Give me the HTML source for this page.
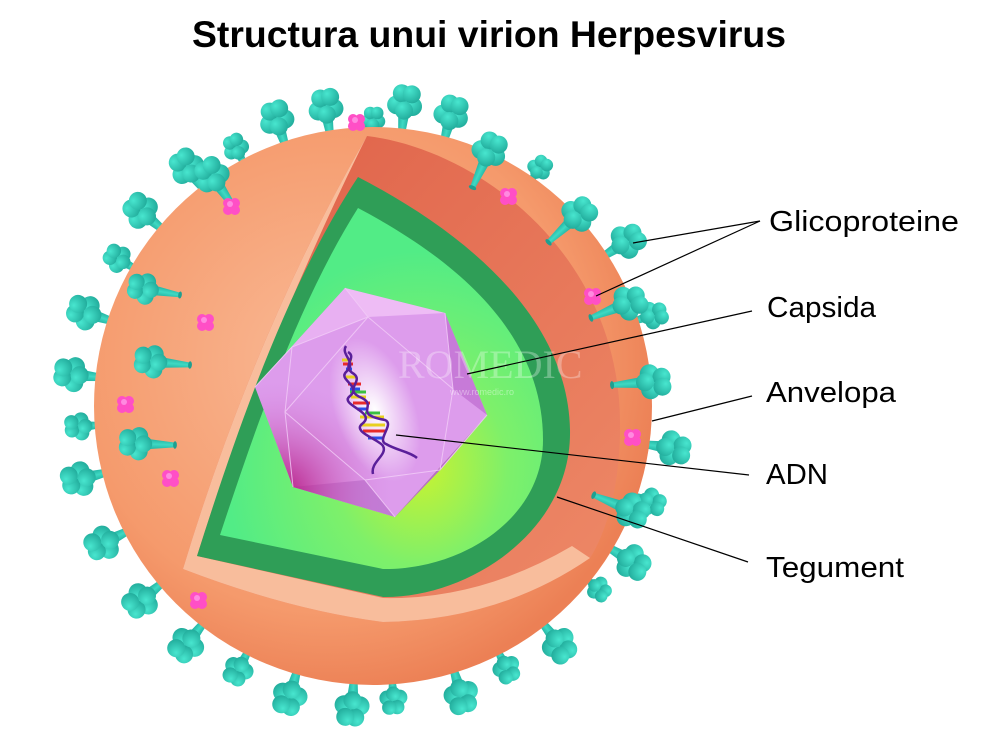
<!DOCTYPE html>
<html><head><meta charset="utf-8"><style>
html,body{margin:0;padding:0;background:#fff;}
svg{display:block;}
</style></head><body>
<svg width="1000" height="747" viewBox="0 0 1000 747" xmlns="http://www.w3.org/2000/svg">
<defs>
<radialGradient id="sph" cx="0.42" cy="0.42" r="0.6">
<stop offset="0" stop-color="#f9b995"/><stop offset="0.75" stop-color="#f59a6c"/><stop offset="1" stop-color="#ec8055"/></radialGradient>
<linearGradient id="cut" x1="0" y1="0" x2="1" y2="1">
<stop offset="0" stop-color="#de5f47"/><stop offset="1" stop-color="#ee8a68"/></linearGradient>
<radialGradient id="lg" cx="0.62" cy="0.72" r="0.6">
<stop offset="0" stop-color="#c9f230"/><stop offset="0.45" stop-color="#7ef06a"/><stop offset="1" stop-color="#52ec86"/></radialGradient>
<radialGradient id="hd" cx="0.35" cy="0.3" r="0.8">
<stop offset="0" stop-color="#48e6cf"/><stop offset="1" stop-color="#1fa898"/></radialGradient>
<linearGradient id="stk" x1="0" y1="0" x2="1" y2="0">
<stop offset="0" stop-color="#22b3a2"/><stop offset="0.5" stop-color="#3fd9c3"/><stop offset="1" stop-color="#22b3a2"/></linearGradient>
<radialGradient id="mag" cx="0.1" cy="0.9" r="0.5">
<stop offset="0" stop-color="#b4107a"/><stop offset="1" stop-color="#d890e4" stop-opacity="0"/></radialGradient>
<radialGradient id="glow" cx="0.5" cy="0.5" r="0.5">
<stop offset="0" stop-color="#ffffff"/><stop offset="1" stop-color="#ffffff" stop-opacity="0"/></radialGradient>
<symbol id="sp" overflow="visible">
<path d="M-2.5,0 L2.5,0 L5.5,-30 L-5.5,-30 Z" fill="url(#stk)"/>
<ellipse cx="0" cy="0" rx="4" ry="2" fill="#1e9f90"/>
<g fill="url(#hd)">
<circle cx="-8" cy="-38" r="9.5"/><circle cx="8" cy="-38" r="9.5"/>
<circle cx="-4" cy="-50" r="9"/><circle cx="6" cy="-50" r="9"/>
<circle cx="0" cy="-33" r="9"/>
</g></symbol>
<symbol id="pk" overflow="visible">
<g fill="#ff4fc6"><circle cx="-3" cy="-3" r="5"/><circle cx="4" cy="-3" r="5"/><circle cx="-3" cy="4" r="5"/><circle cx="4" cy="4" r="5"/></g>
<circle cx="-1" cy="-2" r="3" fill="#ff8ae0"/></symbol>
</defs>

<text x="192" y="47" font-family="Liberation Sans, sans-serif" font-weight="bold" font-size="37" textLength="594" lengthAdjust="spacingAndGlyphs" fill="#000">Structura unui virion Herpesvirus</text>

<g>
<use href="#sp" transform="translate(373 406) rotate(-18.6) translate(0 -262)"/>
<use href="#sp" transform="translate(373 406) rotate(-9) translate(0 -262)"/>
<use href="#sp" transform="translate(373 406) rotate(6) translate(0 -264)"/>
<use href="#sp" transform="translate(373 406) rotate(15) translate(0 -262)"/>
<use href="#sp" transform="translate(373 406) rotate(0) translate(0 -258) scale(0.7)"/>
<use href="#sp" transform="translate(373 406) rotate(35) translate(0 -262) scale(0.7)"/>
<use href="#sp" transform="translate(373 406) rotate(57) translate(0 -262)"/>
<use href="#sp" transform="translate(373 406) rotate(72) translate(0 -262) scale(0.8)"/>
<use href="#sp" transform="translate(373 406) rotate(98) translate(0 -262)"/>
<use href="#sp" transform="translate(373 406) rotate(109) translate(0 -262) scale(0.8)"/>
<use href="#sp" transform="translate(373 406) rotate(121) translate(0 -262)"/>
<use href="#sp" transform="translate(373 406) rotate(129) translate(0 -262) scale(0.7)"/>
<use href="#sp" transform="translate(373 406) rotate(142) translate(0 -262)"/>
<use href="#sp" transform="translate(373 406) rotate(153) translate(0 -262) scale(0.8)"/>
<use href="#sp" transform="translate(373 406) rotate(163) translate(0 -262)"/>
<use href="#sp" transform="translate(373 406) rotate(176) translate(0 -262) scale(0.8)"/>
<use href="#sp" transform="translate(373 406) rotate(184) translate(0 -262)"/>
<use href="#sp" transform="translate(373 406) rotate(196) translate(0 -262)"/>
<use href="#sp" transform="translate(373 406) rotate(207) translate(0 -262) scale(0.85)"/>
<use href="#sp" transform="translate(373 406) rotate(218) translate(0 -262)"/>
<use href="#sp" transform="translate(373 406) rotate(230) translate(0 -262)"/>
<use href="#sp" transform="translate(373 406) rotate(243) translate(0 -262)"/>
<use href="#sp" transform="translate(373 406) rotate(256) translate(0 -262)"/>
<use href="#sp" transform="translate(373 406) rotate(266) translate(0 -262) scale(0.8)"/>
<use href="#sp" transform="translate(373 406) rotate(276) translate(0 -262)"/>
<use href="#sp" transform="translate(373 406) rotate(288) translate(0 -262)"/>
<use href="#sp" transform="translate(373 406) rotate(300) translate(0 -262) scale(0.8)"/>
<use href="#sp" transform="translate(373 406) rotate(310) translate(0 -262)"/>
<use href="#sp" transform="translate(373 406) rotate(322) translate(0 -262)"/>
<use href="#sp" transform="translate(373 406) rotate(332) translate(0 -262) scale(0.75)"/>
</g>

<circle cx="373" cy="406" r="279" fill="url(#sph)"/>

<path d="M367,136 C480,150 618,255 620,420 C621,480 608,530 590,558 Q500,620 383,622 Q290,610 183,569 Q255,330 367,136 Z" fill="url(#cut)"/>
<path d="M367,136 Q255,330 183,569 Q290,610 383,622 Q500,620 590,558 L572,546 Q480,600 383,598 L197,556 Q262,350 360,150 Z" fill="#f8bd9c"/>
<path d="M358,177 C470,235 568,320 570,430 C572,530 470,598 383,597 L197,556 C240,420 290,280 358,177 Z" fill="#2f9e57"/>
<path d="M358,208 C460,262 543,335 543,440 C543,520 460,570 383,569 L220,535 C258,420 300,300 358,208 Z" fill="url(#lg)"/>

<polygon points="345,288 445,313 487,415 395,517 293,487 255,387" fill="#dd9cec"/>
<polygon points="345,288 445,313 368,317" fill="#eebcf5"/>
<polygon points="345,288 368,317 292,347 255,387" fill="#e8b0f2"/>
<polygon points="445,313 487,415 453,389" fill="#c77ad8"/>
<polygon points="487,415 395,517 440,470" fill="#b868cc"/>
<polygon points="395,517 293,487 365,480" fill="#c07ad4"/>
<polygon points="345,288 445,313 487,415 395,517 293,487 255,387" fill="url(#mag)"/>
<g stroke="#f2cdf8" stroke-width="1" fill="none" opacity="0.8">
<path d="M368,317 L292,347 L255,387 M292,347 L285,412 L293,487 M285,412 L365,480 L395,517 M365,480 L440,470 L487,415 M440,470 L453,389 L445,313 M453,389 L368,317 L345,288 M285,412 L368,317"/>
</g>
<ellipse cx="375" cy="410" rx="40" ry="75" fill="url(#glow)" transform="rotate(-20 375 410)"/>

<g stroke-width="3">
<g stroke="#e8d020"><line x1="342" y1="360" x2="352" y2="360"/><line x1="344" y1="377" x2="356" y2="377"/><line x1="351" y1="397" x2="366" y2="397"/><line x1="360" y1="417" x2="384" y2="417"/><line x1="360" y1="425" x2="385" y2="425"/></g>
<g stroke="#e82a2a"><line x1="343" y1="364" x2="353" y2="364"/><line x1="348" y1="384" x2="361" y2="384"/><line x1="353" y1="403" x2="370" y2="403"/><line x1="363" y1="431" x2="386" y2="431"/></g>
<g stroke="#2a4ee8"><line x1="346" y1="369" x2="352" y2="369"/><line x1="350" y1="389" x2="360" y2="389"/><line x1="357" y1="409" x2="368" y2="409"/><line x1="368" y1="438" x2="384" y2="438"/></g>
<g stroke="#3ac040"><line x1="350" y1="392" x2="366" y2="392"/><line x1="365" y1="413" x2="380" y2="413"/></g>
</g>
<path d="M346,346 C340,355 358,362 346,372 C338,380 362,386 350,396 C338,405 378,412 362,424 C352,432 380,440 383,446 C388,455 370,462 373,474" stroke="#5a1f9a" stroke-width="2.5" fill="none"/>
<path d="M348,352 C358,358 340,366 354,374 C364,382 342,390 362,398 C378,406 352,414 385,420 C395,424 376,440 386,444 C396,450 410,452 417,458" stroke="#5a1f9a" stroke-width="2.5" fill="none"/>

<text x="398" y="378" font-family="Liberation Serif, serif" font-size="40" fill="#ffffff" opacity="0.3">ROMEDIC</text>
<text x="450" y="395" font-family="Liberation Sans, sans-serif" font-size="9" fill="#ffffff" opacity="0.4">www.romedic.ro</text>

<use href="#sp" transform="translate(373 406) rotate(24.5) translate(0 -240)"/>
<use href="#sp" transform="translate(373 406) rotate(47) translate(0 -240)"/>
<use href="#sp" transform="translate(373 406) rotate(68) translate(0 -235)"/>
<use href="#sp" transform="translate(373 406) rotate(85) translate(0 -240)"/>
<use href="#sp" transform="translate(373 406) rotate(112) translate(0 -238)"/>
<use href="#sp" transform="translate(373 406) rotate(-35) translate(0 -240)"/>
<use href="#sp" transform="translate(180 295) rotate(-80) scale(0.9)"/>
<use href="#sp" transform="translate(190 365) rotate(-85) scale(0.95)"/>
<use href="#sp" transform="translate(175 445) rotate(-88) scale(0.95)"/>

<use href="#pk" x="231" y="206"/>
<use href="#pk" x="205" y="322"/>
<use href="#pk" x="125" y="404"/>
<use href="#pk" x="170" y="478"/>
<use href="#pk" x="198" y="600"/>
<use href="#pk" x="508" y="196"/>
<use href="#pk" x="592" y="296"/>
<use href="#pk" x="632" y="437"/>
<use href="#pk" x="356" y="122"/>

<g stroke="#000" stroke-width="1.2" fill="none">
<line x1="760" y1="221" x2="633" y2="243"/>
<line x1="760" y1="221" x2="596" y2="296"/>
<line x1="752" y1="311" x2="467" y2="374"/>
<line x1="752" y1="396" x2="652" y2="421"/>
<line x1="749" y1="475" x2="396" y2="435"/>
<line x1="748" y1="562" x2="557" y2="497"/>
</g>

<g font-family="Liberation Sans, sans-serif" font-size="29" fill="#000">
<text x="769" y="231" textLength="190" lengthAdjust="spacingAndGlyphs">Glicoproteine</text>
<text x="767" y="317" textLength="109" lengthAdjust="spacingAndGlyphs">Capsida</text>
<text x="766" y="402" textLength="130" lengthAdjust="spacingAndGlyphs">Anvelopa</text>
<text x="766" y="484" textLength="62" lengthAdjust="spacingAndGlyphs">ADN</text>
<text x="766" y="577" textLength="138" lengthAdjust="spacingAndGlyphs">Tegument</text>
</g>
</svg>
</body></html>
